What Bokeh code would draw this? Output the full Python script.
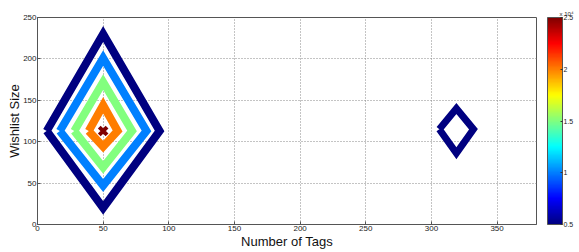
import numpy as np
from bokeh.plotting import figure
from bokeh.models import (LinearColorMapper, ColorBar, FixedTicker, Title,
                          ColumnDataSource)
from bokeh.transform import transform
from bokeh.embed import file_html
from bokeh.resources import INLINE

# ---- data ----
contour_levels = [5000, 10000, 15000, 20000, 5000]
contour_xs = [
    [7, 50, 93, 50, 7],
    [17, 50, 83, 50, 17],
    [28, 50, 72, 50, 28],
    [39, 50, 61, 50, 39],
    [306, 319, 332, 319, 306],
]
contour_ys = [
    [113, 230, 113, 20, 113],
    [113, 201, 113, 47, 113],
    [113, 172, 113, 69, 113],
    [113, 144, 113, 94, 113],
    [115, 140, 115, 86, 115],
]
contour_widths = [8, 8, 8, 8, 7]
peak_x = [50]
peak_y = [113]
peak_level = [25000]

x_ticks = [0, 50, 100, 150, 200, 250, 300, 350]
y_ticks = [0, 50, 100, 150, 200, 250]
cbar_ticks = [5000, 10000, 15000, 20000, 25000]
cbar_labels = ["0.5", "1", "1.5", "2", "2.5"]
cbar_exponent = "x 10\u2074"


# jet colormap
def jet(n=256):
    cols = []
    for t in np.linspace(0, 1, n):
        r = np.clip(1.5 - abs(4 * t - 3), 0, 1)
        g = np.clip(1.5 - abs(4 * t - 2), 0, 1)
        b = np.clip(1.5 - abs(4 * t - 1), 0, 1)
        cols.append("#%02x%02x%02x" % (int(round(r * 255)), int(round(g * 255)), int(round(b * 255))))
    return cols


mapper = LinearColorMapper(palette=jet(), low=5000, high=25000)

p = figure(output_backend="svg", toolbar_location=None,
           frame_width=499, frame_height=207,
           x_range=(0, 380), y_range=(0, 250),
           min_border_left=37, min_border_top=17, min_border_bottom=26,
           min_border_right=5)
p.background_fill_color = "white"
p.border_fill_color = "white"
p.outline_line_color = "#555555"

src = ColumnDataSource(dict(xs=contour_xs, ys=contour_ys, level=contour_levels,
                            w=contour_widths))
p.multi_line("xs", "ys", source=src, line_color=transform("level", mapper),
             line_width="w", line_join="miter")

psrc = ColumnDataSource(dict(x=peak_x, y=peak_y, level=peak_level))
p.scatter("x", "y", source=psrc, marker="x", size=11,
          line_color=transform("level", mapper), line_width=4)

for ax in (p.xaxis[0], p.yaxis[0]):
    ax.major_tick_in = 3
    ax.major_tick_out = 0
    ax.minor_tick_line_color = None
    ax.axis_line_color = "#555555"
    ax.major_tick_line_color = "#555555"
    ax.major_label_text_font = "Liberation Sans"
    ax.major_label_text_font_size = "8px"
    ax.major_label_text_color = "#222222"
    ax.major_label_standoff = 1
    ax.axis_label_text_font = "Liberation Sans"
    ax.axis_label_text_font_size = "13px"
    ax.axis_label_text_font_style = "normal"
    ax.axis_label_text_color = "#111111"
    ax.axis_label_standoff = 0
p.yaxis.axis_label_standoff = -2

p.xaxis.ticker = FixedTicker(ticks=x_ticks)
p.yaxis.ticker = FixedTicker(ticks=y_ticks)
p.xaxis.axis_label = "Number of Tags"
p.yaxis.axis_label = "Wishlist Size"

p.grid.grid_line_color = "#888888"
p.grid.grid_line_dash = "1 2"
p.grid.grid_line_width = 1
p.xgrid.ticker = FixedTicker(ticks=x_ticks)
p.ygrid.ticker = FixedTicker(ticks=y_ticks)

cb = ColorBar(color_mapper=mapper, width=15, margin=0, padding=0,
              location=(11, 0),
              ticker=FixedTicker(ticks=cbar_ticks),
              major_label_overrides={t: l for t, l in zip(cbar_ticks, cbar_labels)},
              major_label_text_font="Liberation Sans",
              major_label_text_font_size="7px",
              major_label_text_color="#222222",
              label_standoff=1,
              major_tick_line_color="#333333", major_tick_in=2, major_tick_out=0,
              bar_line_color="#555555")
p.add_layout(cb, "right")

p.add_layout(Title(text=cbar_exponent, align="right", offset=-37, standoff=2,
                   text_font="Liberation Sans", text_font_size="6px",
                   text_font_style="normal", text_color="#222222"), "above")

open("out.html", "w").write(file_html(p, INLINE))
